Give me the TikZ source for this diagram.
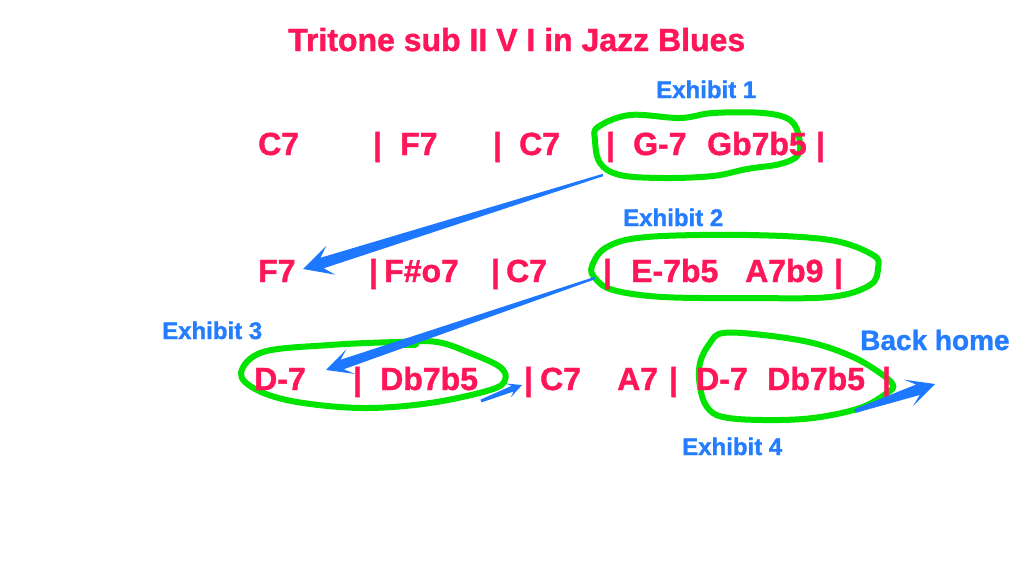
\documentclass[tikz,border=0pt]{standalone}
\usepackage{fontspec}
\setmainfont{Liberation Sans}
\newfontfamily\heavyfont{Liberation Sans Bold}[AutoFakeBold=1.2]
\usetikzlibrary{calc}
\definecolor{chordred}{RGB}{255,22,88}
\definecolor{lblblue}{RGB}{36,124,255}
\definecolor{arrowblue}{RGB}{30,120,255}
\definecolor{loopgreen}{RGB}{0,228,0}
\newcommand\chordfont{\fontsize{32}{38}\heavyfont\bfseries}
\newcommand\lblfont{\fontsize{24}{28}\heavyfont\bfseries}
\newcommand\homefont{\fontsize{28}{32}\heavyfont\bfseries}
\tikzset{
  chord/.style={anchor=base west, inner sep=0pt, font=\chordfont, text=chordred},
  lbl/.style={anchor=base west, inner sep=0pt, font=\lblfont, text=lblblue},
  home/.style={anchor=base west, inner sep=0pt, font=\homefont, text=lblblue},
  loop/.style={draw=loopgreen, line width=6pt, line join=round, line cap=round},
}
% text node: name, x, y, style, text
\newcommand\shtxt[5]{%
  \node[#4] (#1) at (#2,#3) {#5};
}
% tapered arrow: start, tip, half width start, half width at head, notch dist, half head width, wing dist
\newcommand\taperarrow[7]{%
  \coordinate (#1-hb) at ($(#2)!#5!(#1)$);
  \coordinate (#1-wb) at ($(#2)!#7!(#1)$);
  \fill[arrowblue] ($(#1)!#3!90:(#2)$) -- ($(#1-hb)!#4!90:(#2)$) -- ($(#1-wb)!#6!90:(#2)$)
    -- (#2) -- ($(#1-wb)!#6!-90:(#2)$) -- ($(#1-hb)!#4!-90:(#2)$) -- ($(#1)!#3!-90:(#2)$) -- cycle;
}
\begin{document}
\begin{tikzpicture}[x=1pt,y=-1pt]
\useasboundingbox (0,0) rectangle (1017,587);
\fill[white] (0,0) rectangle (1017,587);

% green loops
\draw[loop] plot[smooth cycle, tension=0.6] coordinates {(598,127) (630,115) (680,118) (713,113) (763,113) (790,120) (799,137) (798,155) (780,164) (747,169) (713,176) (663,178) (620,175) (600,163) (595,140)};
\draw[loop] plot[smooth cycle, tension=0.6] coordinates {(592,266) (607,247) (647,237) (747,235) (830,240) (873,255) (878,268) (870,285) (830,297) (747,298) (663,297) (613,290) (595,278)};
\draw[loop] plot[smooth cycle, tension=0.6] coordinates {(241,373) (263,352) (330,345) (397,342) (437,342) (470,353) (500,367) (505,380) (490,390) (430,403) (363,408) (297,402) (257,390)};
\draw[loop, line width=9pt] (398,343) -- (415,343);
\draw[loop] plot[smooth cycle, tension=0.6] coordinates {(723,333) (763,335) (813,343) (853,357) (880,373) (893,385) (887,393) (860,408) (813,418) (763,420) (723,417) (707,407) (700,387) (700,363) (710,343)};

% title
\shtxt{title}{288}{51}{chord}{Tritone sub II V I in Jazz Blues}

% labels
\shtxt{ex1}{656}{98}{lbl}{Exhibit 1}
\shtxt{ex2}{623}{226}{lbl}{Exhibit 2}
\shtxt{ex3}{162}{339}{lbl}{Exhibit 3}
\shtxt{ex4}{682}{455}{lbl}{Exhibit 4}
\shtxt{home}{860}{350}{home}{Back home}

% row 1
\shtxt{r1a}{258}{155}{chord}{C7}
\shtxt{r1b}{373}{155}{chord}{|}
\shtxt{r1c}{400}{155}{chord}{F7}
\shtxt{r1d}{493}{155}{chord}{|}
\shtxt{r1e}{519}{155}{chord}{C7}
\shtxt{r1f}{606}{155}{chord}{|}
\shtxt{r1g}{633}{155}{chord}{G-7}
\shtxt{r1h}{707}{155}{chord}{Gb7b5}
\shtxt{r1i}{816}{155}{chord}{|}

% row 2
\shtxt{r2a}{258}{282}{chord}{F7}
\shtxt{r2b}{369}{282}{chord}{|}
\shtxt{r2c}{384}{282}{chord}{F\#o7}
\shtxt{r2d}{491}{282}{chord}{|}
\shtxt{r2e}{506}{282}{chord}{C7}
\shtxt{r2f}{603}{282}{chord}{|}
\shtxt{r2g}{631}{282}{chord}{E-7b5}
\shtxt{r2h}{745}{282}{chord}{A7b9}
\shtxt{r2i}{834}{282}{chord}{|}

% row 3
\shtxt{r3a}{254}{390}{chord}{D-7}
\shtxt{r3b}{353}{390}{chord}{|}
\shtxt{r3c}{380}{390}{chord}{Db7b5}
\shtxt{r3d}{524}{390}{chord}{|}
\shtxt{r3e}{540}{390}{chord}{C7}
\shtxt{r3f}{617}{390}{chord}{A7}
\shtxt{r3g}{669}{390}{chord}{|}
\shtxt{r3h}{696}{390}{chord}{D-7}
\shtxt{r3i}{767}{390}{chord}{Db7b5}
\shtxt{r3j}{882}{390}{chord}{|}

% arrows
\coordinate (a1s) at (603,175);
\coordinate (a1t) at (303,269);
\taperarrow{a1s}{a1t}{1.2pt}{5.5pt}{20pt}{15pt}{29pt}
\coordinate (a2s) at (595,278);
\coordinate (a2t) at (326,370);
\taperarrow{a2s}{a2t}{1.2pt}{5pt}{17pt}{13pt}{26pt}
\coordinate (a3s) at (481,401);
\coordinate (a3t) at (522,385);
\taperarrow{a3s}{a3t}{1.5pt}{3pt}{10pt}{7.5pt}{15pt}
\coordinate (a4s) at (855,411);
\coordinate (a4t) at (935,384);
\taperarrow{a4s}{a4t}{2pt}{5.5pt}{18pt}{14pt}{28pt}
\end{tikzpicture}
\end{document}
